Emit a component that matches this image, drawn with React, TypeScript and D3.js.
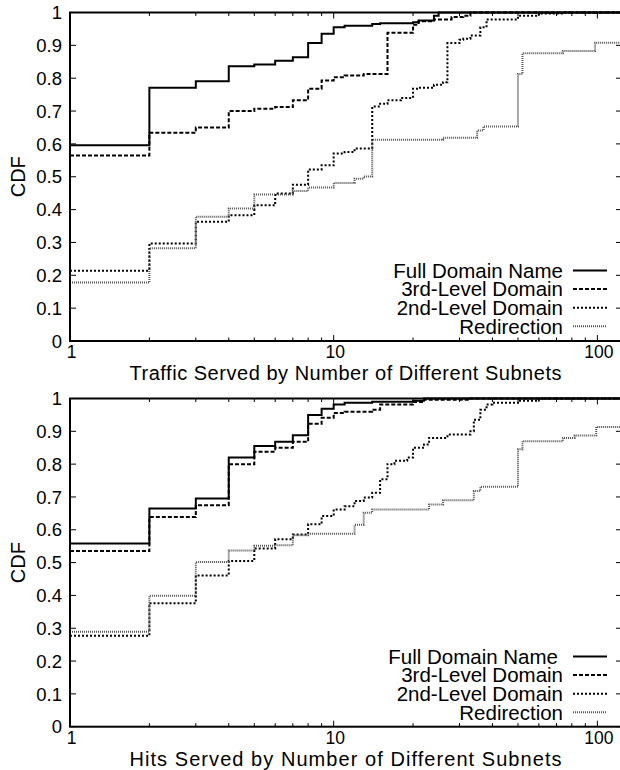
import React from 'react';
import * as d3 from 'd3';

// ---- data ----
const seriesNames = ['Full Domain Name', '3rd-Level Domain', '2nd-Level Domain', 'Redirection'];
const yTickValues = [0, 0.1, 0.2, 0.3, 0.4, 0.5, 0.6, 0.7, 0.8, 0.9, 1];
const xMajorTicks = [1, 10, 100];
const xMinorTicks = [2, 3, 4, 5, 6, 7, 8, 9, 20, 30, 40, 50, 60, 70, 80, 90];
const xTitles = ['Traffic Served by Number of Different Subnets', 'Hits Served by Number of Different Subnets'];

// Traffic panel
const trafficFullX = [1, 2, 3, 4, 5, 6, 7, 8, 9, 10, 11, 14, 15, 20, 21, 24, 25];
const trafficFullY = [0.596, 0.771, 0.791, 0.836, 0.842, 0.853, 0.864, 0.907, 0.935, 0.955, 0.96, 0.965, 0.967, 0.97, 0.976, 0.99, 1.0];
const traffic3rdX = [1, 2, 3, 4, 5, 6, 7, 8, 9, 10, 11, 13, 16, 20, 21, 24, 28, 31, 33];
const traffic3rdY = [0.565, 0.634, 0.65, 0.7, 0.707, 0.712, 0.733, 0.768, 0.793, 0.803, 0.808, 0.813, 0.938, 0.963, 0.973, 0.979, 0.986, 0.99, 1.0];
const traffic2ndX = [1, 2, 3, 4, 5, 6, 7, 8, 9, 10, 11, 12, 14, 15, 16, 18, 20, 21, 24, 26, 27, 30, 31, 33, 36, 38, 50, 60, 75];
const traffic2ndY = [0.214, 0.297, 0.363, 0.383, 0.413, 0.449, 0.476, 0.522, 0.535, 0.571, 0.575, 0.586, 0.714, 0.722, 0.733, 0.74, 0.768, 0.771, 0.78, 0.788, 0.907, 0.917, 0.92, 0.93, 0.955, 0.979, 0.99, 0.997, 1.0];
const trafficRedirX = [1, 2, 3, 4, 5, 7, 8, 10, 12, 13, 14, 26, 35, 37, 50, 52, 74, 98];
const trafficRedirY = [0.178, 0.282, 0.378, 0.403, 0.446, 0.457, 0.467, 0.481, 0.494, 0.501, 0.613, 0.619, 0.641, 0.653, 0.813, 0.876, 0.883, 0.908];

// Hits panel
const hitsFullX = [1, 2, 3, 4, 5, 6, 7, 8, 9, 10, 11, 14, 20, 22];
const hitsFullY = [0.558, 0.665, 0.695, 0.82, 0.855, 0.868, 0.888, 0.95, 0.969, 0.982, 0.987, 0.99, 0.993, 1.0];
const hits3rdX = [1, 2, 3, 4, 5, 6, 7, 8, 9, 10, 11, 14, 15, 20, 22, 33];
const hits3rdY = [0.535, 0.639, 0.675, 0.8, 0.838, 0.85, 0.868, 0.923, 0.941, 0.956, 0.96, 0.966, 0.982, 0.989, 0.996, 1.0];
const hits2ndX = [1, 2, 3, 4, 5, 6, 7, 8, 9, 10, 11, 12, 13, 14, 15, 16, 17, 19, 20, 22, 23, 27, 33, 34, 36, 38, 40, 50, 60];
const hits2ndY = [0.277, 0.376, 0.461, 0.505, 0.543, 0.571, 0.586, 0.617, 0.642, 0.662, 0.672, 0.688, 0.698, 0.713, 0.754, 0.8, 0.81, 0.82, 0.85, 0.86, 0.88, 0.89, 0.9, 0.935, 0.966, 0.982, 0.987, 0.993, 1.0];
const hitsRedirX = [1, 2, 3, 4, 5, 6, 7, 8, 12, 13, 14, 23, 26, 34, 36, 50, 52, 74, 82, 99];
const hitsRedirY = [0.289, 0.399, 0.502, 0.537, 0.551, 0.553, 0.583, 0.588, 0.615, 0.652, 0.662, 0.677, 0.69, 0.718, 0.731, 0.845, 0.87, 0.88, 0.887, 0.913];

// ---- layout / style ----
const W = 620;
const H = 770;
const LEFT = 70;
const RIGHT = 622;
const X_MAX = 124;
const FONT = '"Liberation Sans", Arial, Helvetica, sans-serif';
const lineStyles = [
  { stroke: '#000', dash: undefined as string | undefined, width: 2 },
  { stroke: '#000', dash: '4,2', width: 2 },
  { stroke: '#000', dash: '2,2', width: 2 },
  { stroke: '#555', dash: '1,1', width: 2 },
];

type PanelProps = {
  id: string;
  top: number;
  bottom: number;
  xs: number[][];
  ys: number[][];
  title: string;
  legendFirstShift: number;
};

function Panel({ id, top, bottom, xs, ys, title, legendFirstShift }: PanelProps) {
  const x = d3.scaleLog().domain([1, X_MAX]).range([LEFT, RIGHT]);
  const y = d3.scaleLinear().domain([0, 1]).range([bottom, top]);
  const line = d3
    .line<[number, number]>()
    .x((d) => x(d[0]))
    .y((d) => y(d[1]))
    .curve(d3.curveStepAfter);

  const legendX = 563;
  const legendY0 = top + 258;
  const legendStep = 18.6;

  return (
    <g>
      <defs>
        <clipPath id={id}>
          <rect x={LEFT} y={top - 2} width={RIGHT - LEFT} height={bottom - top + 4} />
        </clipPath>
      </defs>
      {/* y ticks */}
      {yTickValues.map((v) => (
        <g key={'y' + v}>
          <line x1={LEFT} x2={LEFT + 6} y1={y(v)} y2={y(v)} stroke="#000" strokeWidth={1} />
          <line x1={RIGHT - 6} x2={RIGHT} y1={y(v)} y2={y(v)} stroke="#000" strokeWidth={1} />
          <text x={LEFT - 8} y={y(v)} dy="0.36em" textAnchor="end" fontSize={18.5} fontFamily={FONT}>
            {String(v)}
          </text>
        </g>
      ))}
      {/* x ticks */}
      {xMajorTicks.map((v) => (
        <g key={'xm' + v}>
          <line x1={x(v)} x2={x(v)} y1={bottom} y2={bottom - 6} stroke="#000" strokeWidth={1} />
          <line x1={x(v)} x2={x(v)} y1={top} y2={top + 6} stroke="#000" strokeWidth={1} />
          <text x={x(v) + 1.5} y={bottom + 17} textAnchor="middle" fontSize={17.5} fontFamily={FONT}>
            {String(v)}
          </text>
        </g>
      ))}
      {xMinorTicks.map((v) => (
        <g key={'xn' + v}>
          <line x1={x(v)} x2={x(v)} y1={bottom} y2={bottom - 3.5} stroke="#000" strokeWidth={1} />
          <line x1={x(v)} x2={x(v)} y1={top} y2={top + 3.5} stroke="#000" strokeWidth={1} />
        </g>
      ))}
      {/* series */}
      <g clipPath={`url(#${id})`}>
        {xs.map((sx, i) => {
          const pts: [number, number][] = sx.map((v, j) => [v, ys[i][j]] as [number, number]);
          pts.push([X_MAX, ys[i][ys[i].length - 1]]);
          const st = lineStyles[i];
          return (
            <path
              key={'s' + i}
              d={line(pts) || ''}
              fill="none"
              stroke={st.stroke}
              strokeWidth={st.width}
              strokeDasharray={st.dash}
            />
          );
        })}
      </g>
      {/* frame */}
      <rect x={LEFT} y={top} width={RIGHT - LEFT} height={bottom - top} fill="none" stroke="#000" strokeWidth={2} />
      {/* axis titles */}
      <text
        transform={`translate(18,${(top + bottom) / 2}) rotate(-90)`}
        dy="0.36em"
        textAnchor="middle"
        fontSize={20}
        fontFamily={FONT}
      >
        CDF
      </text>
      <text
        x={345.5}
        y={bottom + 38.8}
        textAnchor="middle"
        fontSize={20}
        fontFamily={FONT}
        textLength={432}
        lengthAdjust="spacing"
      >
        {title}
      </text>
      {/* legend */}
      {seriesNames.map((name, i) => {
        const ly = legendY0 + i * legendStep;
        const st = lineStyles[i];
        return (
          <g key={'l' + i}>
            <text
              x={legendX - (i === 0 ? legendFirstShift : 0)}
              y={ly}
              dy="0.36em"
              textAnchor="end"
              fontSize={20.5}
              fontFamily={FONT}
            >
              {name}
            </text>
            <line
              x1={573}
              x2={607}
              y1={ly}
              y2={ly}
              stroke={st.stroke}
              strokeWidth={st.width}
              strokeDasharray={st.dash}
            />
          </g>
        );
      })}
    </g>
  );
}

export default function App() {
  return (
    <svg
      width={W}
      height={H}
      viewBox={`0 0 ${W} ${H}`}
      style={{ position: 'absolute', left: 0, top: 0, background: '#fff' }}
    >
      <rect x={0} y={0} width={W} height={H} fill="#fff" />
      <Panel
        id="clipTraffic"
        top={12.5}
        bottom={341}
        xs={[trafficFullX, traffic3rdX, traffic2ndX, trafficRedirX]}
        ys={[trafficFullY, traffic3rdY, traffic2ndY, trafficRedirY]}
        title={xTitles[0]}
        legendFirstShift={0}
      />
      <Panel
        id="clipHits"
        top={398.5}
        bottom={726.7}
        xs={[hitsFullX, hits3rdX, hits2ndX, hitsRedirX]}
        ys={[hitsFullY, hits3rdY, hits2ndY, hitsRedirY]}
        title={xTitles[1]}
        legendFirstShift={5}
      />
    </svg>
  );
}
